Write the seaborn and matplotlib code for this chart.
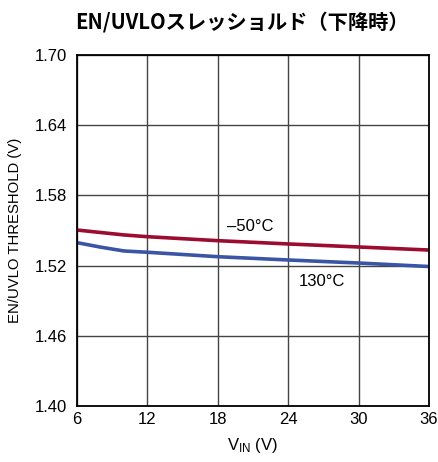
import matplotlib
matplotlib.use("Agg")
import matplotlib.pyplot as plt
import seaborn as sns
import pandas as pd

# Falling EN/UVLO threshold versus input voltage
vin_cold = [6, 8, 10, 12, 15, 18, 21, 24, 27, 30, 33, 36]
thr_cold = [1.5504, 1.5483, 1.5462, 1.5447, 1.5430, 1.5413, 1.5399, 1.5385, 1.5372, 1.5359, 1.5346, 1.5333]
vin_hot = [6, 8, 10, 12, 15, 18, 21, 24, 27, 30, 33, 36]
thr_hot = [1.5396, 1.5358, 1.5325, 1.5314, 1.5295, 1.5276, 1.5262, 1.5248, 1.5235, 1.5222, 1.5207, 1.5192]
series_names = ["–50°C", "130°C"]
x_ticks = [6, 12, 18, 24, 30, 36]
y_ticks = [1.40, 1.46, 1.52, 1.58, 1.64, 1.70]

df = pd.concat([
    pd.DataFrame({"vin": vin_cold, "thr": thr_cold, "temp": series_names[0]}),
    pd.DataFrame({"vin": vin_hot, "thr": thr_hot, "temp": series_names[1]}),
])

sns.set_theme(style="white")
plt.rcParams["font.family"] = ["Liberation Sans", "Noto Sans CJK JP", "DejaVu Sans"]
plt.rcParams["mathtext.fontset"] = "custom"
plt.rcParams["mathtext.rm"] = "Liberation Sans"
for key in ("text.color", "axes.labelcolor", "xtick.color", "ytick.color"):
    plt.rcParams[key] = "black"

fig = plt.figure(figsize=(4.39, 4.62), dpi=100)
ax = fig.add_axes([0.1754, 0.1212, 0.8018, 0.7598])

palette = {series_names[0]: "#9c0b30", series_names[1]: "#3a55a6"}
sns.lineplot(data=df, x="vin", y="thr", hue="temp", palette=palette,
             linewidth=2.6, ax=ax, legend=False)

ax.set_xlim(6, 36)
ax.set_ylim(1.40, 1.70)
ax.set_xticks(x_ticks)
ax.set_yticks(y_ticks)
ax.set_xticklabels([str(t) for t in x_ticks], fontsize=12)
ax.set_yticklabels([f"{t:.2f}" for t in y_ticks], fontsize=12)
ax.tick_params(axis="y", length=0, pad=7)
ax.tick_params(axis="x", length=0, pad=4.5)
ax.grid(True, color="#444444", linewidth=1.0)
for s in ax.spines.values():
    s.set_color("black")
    s.set_linewidth(1.3)

ax.set_xlabel(r"$\mathregular{V_{IN}}$ (V)", fontsize=12, labelpad=6)
ax.set_ylabel("EN/UVLO THRESHOLD (V)", fontsize=10.7, labelpad=9)

ax.text(20.74, 1.5538, series_names[0], fontsize=12, ha="center", va="center")
ax.text(26.84, 1.5068, series_names[1], fontsize=12, ha="center", va="center")

fig.text(0.551, 0.952, "EN/UVLOスレッショルド（下降時）", fontsize=14.6, fontweight="bold",
         ha="center", va="center", family=["Noto Sans CJK JP", "DejaVu Sans"])

fig.savefig("out.png", dpi=100, facecolor="white")
